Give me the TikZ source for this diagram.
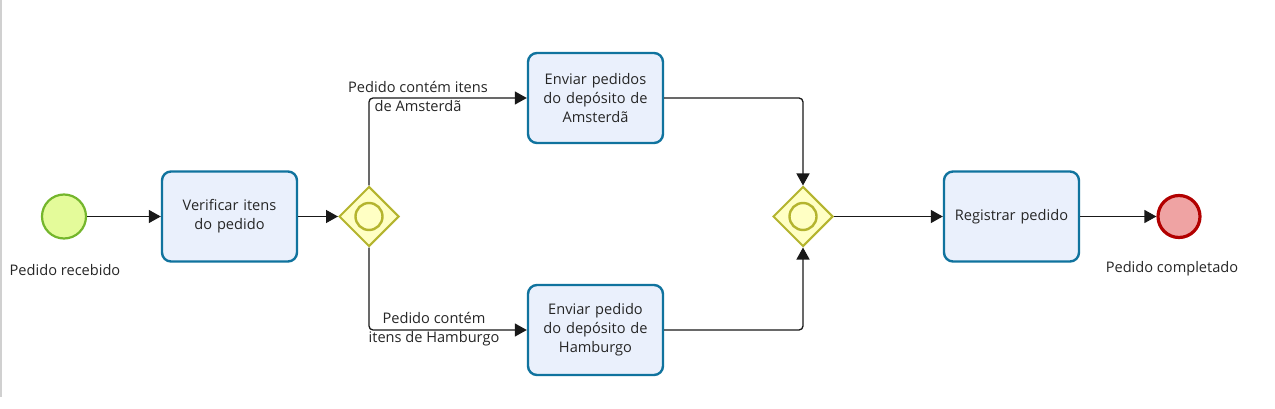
\documentclass[tikz,border=0pt]{standalone}
\usepackage{fontspec}
\setmainfont{Open Sans}
\usetikzlibrary{shapes.geometric,arrows.meta}
\definecolor{taskfill}{HTML}{EAF0FC}
\definecolor{taskdraw}{HTML}{10739E}
\definecolor{startfill}{HTML}{E4FB9A}
\definecolor{startdraw}{HTML}{74B62C}
\definecolor{gwfill}{HTML}{FFFFC4}
\definecolor{gwdraw}{HTML}{B4B42E}
\definecolor{endfill}{HTML}{EFA3A3}
\definecolor{enddraw}{HTML}{B20000}
\definecolor{framegray}{HTML}{D0D0D0}
\tikzset{
  txt/.style={font=\fontsize{14.6}{19}\selectfont, text=black!85},
  task/.style={txt, draw=taskdraw, fill=taskfill, line width=2.4pt, rounded corners=9pt,
    minimum width=135pt, minimum height=90pt, text width=130pt, align=center, inner sep=0pt},
  startev/.style={circle, draw=startdraw, fill=startfill, line width=2.2pt, minimum size=44pt, inner sep=0pt},
  endev/.style={circle, draw=enddraw, fill=endfill, line width=3.2pt, minimum size=42pt, inner sep=0pt},
  gw/.style={diamond, draw=gwdraw, fill=gwfill, line width=2pt, minimum width=60pt, minimum height=60pt, inner sep=0pt},
  gwin/.style={circle, draw=gwdraw, line width=2.4pt, minimum size=27pt, inner sep=0pt},
  flow/.style={draw=black!90, line width=1.3pt, rounded corners=4pt, -{Triangle[length=12pt,width=13pt]}},
  elabel/.style={txt, align=center, inner sep=0pt},
  evlabel/.style={txt, inner sep=0pt}
}
\begin{document}
\begin{tikzpicture}[x=1pt,y=-1pt]
\useasboundingbox (0,0) rectangle (1275,409);
\fill[white] (0,0) rectangle (1275,409);
\draw[framegray, line width=1.5pt] (0.75,0) -- (0.75,397);
% nodes
\node[startev] (start) at (64,216.5) {};
\node[evlabel] (startlbl) at (65,270) {Pedido recebido};
\node[task] (verif) at (229.5,216.5) {Verificar itens\\do pedido};
\node[gw] (gw1) at (369,216.5) {};
\node[gwin] (gw1in) at (369,216.5) {};
\node[task] (ams) at (595.5,98) {Enviar pedidos\\do depósito de\\Amsterdã};
\node[task] (ham) at (595.5,330) {Enviar pedido\\do depósito de\\Hamburgo};
\node[gw] (gw2) at (803,216.5) {};
\node[gwin] (gw2in) at (803,216.5) {};
\node[task] (reg) at (1011.5,216.5) {Registrar pedido};
\node[endev] (end) at (1179,216.5) {};
\node[evlabel] (endlbl) at (1172,269) {Pedido completado};
% edges
\draw[flow] (start) -- (verif);
\draw[flow] (verif) -- (gw1);
\draw[flow] (gw1.north) |- (ams.west);
\draw[flow] (gw1.south) |- (ham.west);
\draw[flow] (ams.east) -| (gw2.north);
\draw[flow] (ham.east) -| (gw2.south);
\draw[flow] (gw2) -- (reg);
\draw[flow] (reg) -- (end);
% edge labels
\node[elabel] (lblams) at (418,96) {Pedido contém itens\\de Amsterdã};
\node[elabel] (lblham) at (434,329) {Pedido contém\\itens de Hamburgo};
\end{tikzpicture}
\end{document}
